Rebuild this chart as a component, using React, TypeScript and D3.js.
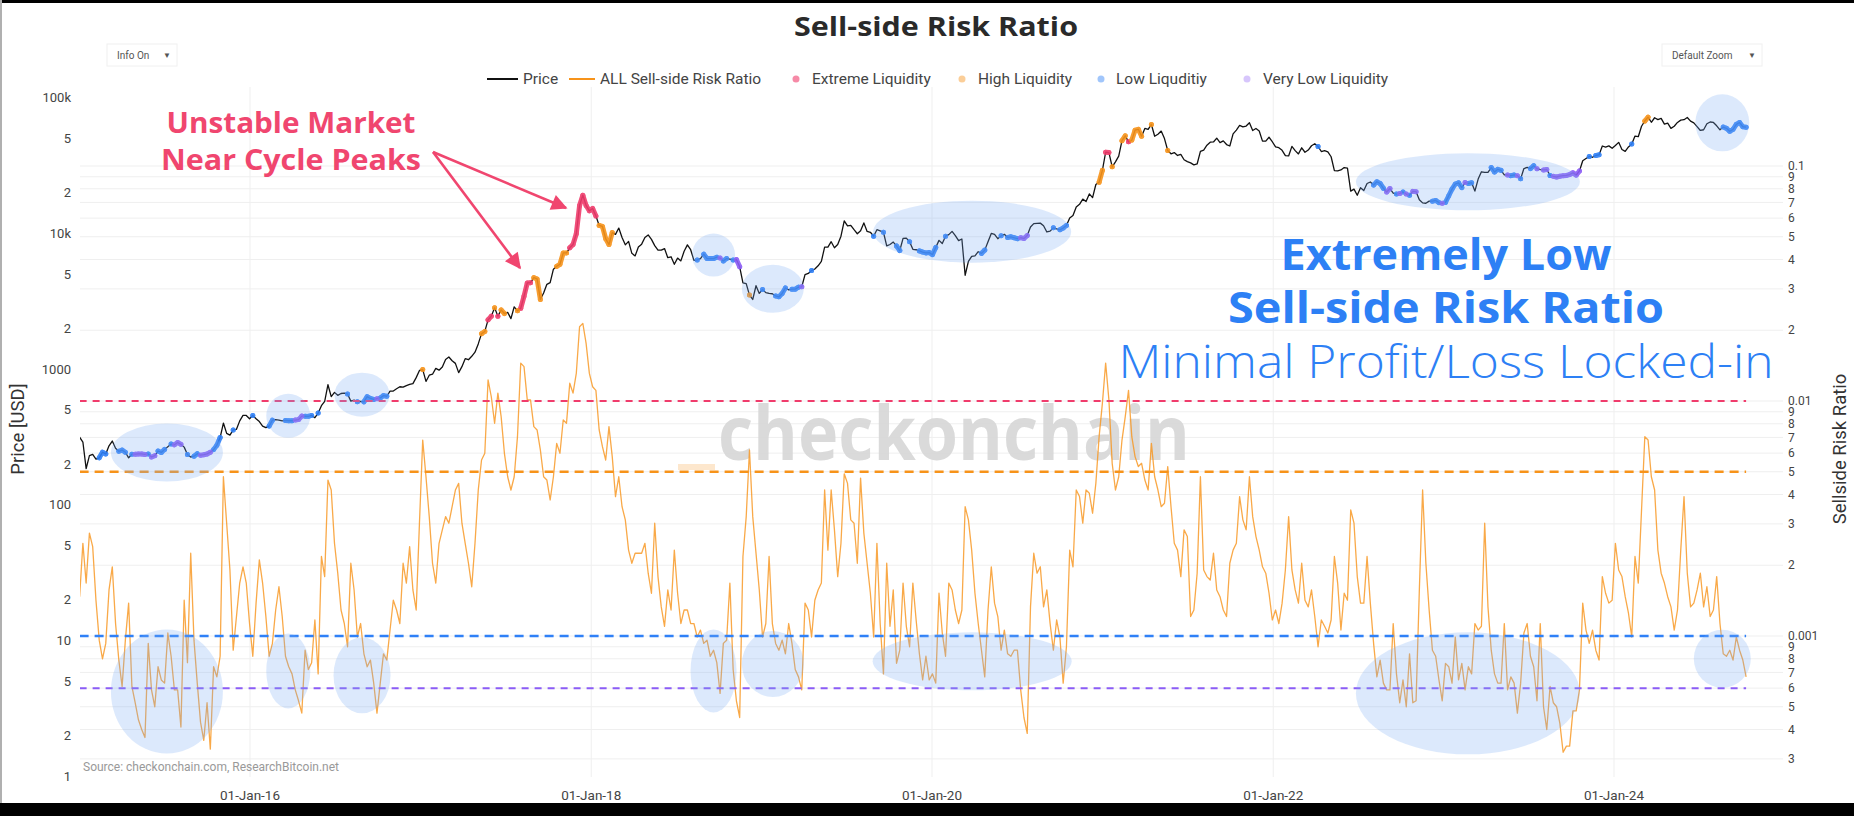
import React from "react";
import * as d3 from "d3";

const WIDTH = 1854;
const HEIGHT = 816;
const PLOT = { left: 80, right: 1783, top: 97, bottom: 777 };

// Weekly samples, first sample on 2015-01-01
const SERIES_START = "2015-01-01";
const STEP_DAYS = 7;

// BTC price, USD
const price2015 = [315, 290, 185, 230, 235, 217, 222, 244, 237, 272, 295, 261, 248, 253, 244, 222, 236, 236, 237, 237, 235, 237, 225, 230, 249, 243, 256, 268, 280, 277, 288, 279, 266, 235, 225, 228, 238, 232, 234, 237, 244, 255, 275, 313, 400, 336, 326, 356, 360, 415, 455, 455, 430];
const price2016 = [455, 430, 410, 380, 370, 380, 420, 424, 421, 415, 418, 416, 416, 421, 424, 450, 449, 448, 455, 438, 474, 537, 577, 766, 626, 673, 640, 660, 665, 655, 580, 590, 575, 577, 573, 626, 607, 597, 605, 612, 637, 630, 688, 688, 715, 740, 735, 755, 770, 780, 864, 975];
const price2017 = [990, 810, 900, 915, 1010, 980, 1035, 1175, 1225, 1150, 1100, 940, 1040, 1190, 1170, 1240, 1330, 1530, 1820, 1890, 2300, 2450, 2820, 2450, 2720, 2560, 2610, 2350, 2870, 2680, 2800, 3430, 4300, 4320, 4700, 4600, 3250, 3630, 4200, 4320, 5430, 5700, 5900, 7150, 7150, 7800, 8250, 9900, 16000, 19000, 16000, 14600];
const price2018 = [15200, 13400, 11400, 11200, 9100, 8250, 10100, 9800, 10900, 9300, 8200, 8700, 7100, 6800, 7900, 8300, 9300, 9700, 9000, 8100, 7500, 7500, 7700, 6600, 6700, 5900, 6550, 6250, 7350, 8200, 7550, 6300, 6350, 6500, 7000, 6500, 6500, 6500, 6650, 6550, 6250, 6500, 6450, 6350, 6400, 5650, 4300, 4250, 3500, 3250, 4100, 3600];
const price2019 = [3850, 3650, 3600, 3580, 3450, 3400, 3600, 3950, 3820, 3870, 3870, 4000, 4030, 4950, 5050, 5300, 5450, 5750, 6200, 7900, 7900, 8650, 7800, 8250, 9500, 12300, 11300, 11400, 10600, 9900, 10400, 11900, 10300, 10150, 9500, 10600, 10400, 10150, 8050, 8250, 8600, 8050, 7450, 9150, 9200, 8650, 7600, 7550, 7400, 7250, 7150, 7200];
const price2020 = [6950, 7850, 8850, 8400, 9500, 9750, 10300, 9600, 8800, 9050, 4900, 6200, 6750, 6800, 7300, 7100, 7500, 8650, 9950, 9800, 9100, 9550, 9800, 9300, 9400, 9250, 9100, 9250, 9150, 9600, 11100, 11750, 11800, 11850, 11350, 10200, 10350, 10950, 10750, 10600, 10900, 11400, 12950, 13500, 15600, 16300, 17800, 17100, 19450, 18250, 22800, 23700, 29000];
const price2021 = [39400, 39200, 30800, 33500, 36900, 47900, 52100, 47000, 48400, 57300, 58100, 51700, 59000, 58000, 63100, 51700, 53500, 56400, 49700, 40600, 38400, 39200, 37300, 38000, 34700, 33600, 32900, 31800, 32300, 40000, 40900, 44400, 46700, 46900, 50000, 46400, 47800, 44900, 43800, 53800, 57400, 62200, 60600, 61400, 64900, 56900, 58900, 56500, 47600, 47600, 50800, 47100];
const price2022 = [43100, 42600, 40700, 37200, 37000, 43500, 40500, 38300, 42500, 39400, 40900, 44000, 45500, 43500, 39900, 40500, 39700, 36500, 28900, 28700, 29200, 30400, 30100, 20400, 21100, 19000, 21600, 20600, 23200, 23800, 22600, 23900, 23200, 21400, 20100, 21300, 19700, 19400, 19600, 20100, 19400, 19000, 20300, 20200, 17600, 16700, 16600, 17200, 17200, 17400, 16800, 16600];
const price2023 = [16850, 18850, 21100, 23000, 23450, 21650, 23550, 23200, 23500, 20400, 25000, 28300, 28000, 28000, 30400, 28200, 29500, 29000, 26900, 26800, 26500, 26800, 26500, 25100, 29900, 30450, 29900, 31400, 29800, 29300, 29200, 29400, 26600, 26200, 25900, 26250, 26500, 26600, 27000, 27800, 26750, 28700, 34150, 35400, 36700, 36200, 37300, 37700, 43800, 43000, 43900, 42100];
const price2024 = [44200, 46600, 41300, 40000, 43100, 45300, 51800, 51300, 61200, 66900, 71400, 65500, 70700, 68500, 70000, 63500, 64500, 59100, 61200, 65300, 67900, 68400, 71000, 66800, 64800, 60900, 57000, 57700, 63900, 65800, 65300, 61700, 57600, 60400, 59100, 56200, 58100, 63200, 65200, 60700, 60300];

// Sell-side risk ratio, in units of 1e-4
const RATIO_UNIT = 1e-4;
const ssr2015 = [14.7, 24.8, 16.8, 27.4, 24, 14.2, 9.6, 8, 9.3, 15.7, 19.7, 11.3, 7.9, 6.1, 9.6, 13.8, 6.1, 5.2, 4.4, 4, 3.7, 9.3, 5.9, 5, 7.4, 6.5, 6.3, 10.3, 8.2, 5.9, 5.9, 4.1, 14.2, 7.7, 22.5, 9.6, 6.3, 4.3, 3.6, 5.2, 3.3, 7.4, 6.7, 8.2, 47.6, 30.2, 19.1, 8.7, 12.1, 16.8, 19.7, 16.8, 11.3];
const ssr2016 = [8.2, 13.8, 21.1, 16.8, 12.1, 8.2, 9.3, 12.9, 16.2, 12.1, 8.2, 7.4, 6.9, 5.9, 5.3, 4.7, 8.7, 7.2, 7.7, 11.7, 6.9, 21.8, 17.9, 46.1, 41.8, 24.8, 18.5, 12.9, 11.3, 9, 20.4, 15.7, 9.9, 11.3, 8.4, 7.4, 7.9, 6.3, 4.7, 6.3, 8.4, 7.9, 10.6, 14.2, 12.9, 11.3, 20.4, 16.8, 24, 15.7, 12.9, 30.2];
const ssr2017 = [68.2, 47.6, 32.2, 20.4, 16.8, 24.8, 28.3, 32.2, 30.2, 35.5, 41.8, 44.6, 30.2, 24.8, 20.4, 16.2, 24.8, 41.8, 56.1, 59.9, 123, 104, 80.4, 108, 85.8, 59.9, 47.6, 41.8, 47.6, 70.5, 145, 140, 101, 101, 77.8, 75.3, 61.9, 47.6, 46.1, 37.9, 47.6, 66, 59.9, 83, 80.4, 119, 108, 131, 207, 214, 176, 131];
const ssr2018 = [115, 111, 75.3, 63.9, 56.1, 77.8, 58, 39.2, 47.6, 35.5, 31.2, 23.2, 20.4, 22.5, 22.5, 22.5, 24.8, 18.5, 15.2, 30.2, 17.9, 13.3, 11, 15.7, 12.9, 23.2, 15.2, 11.3, 12.9, 12.9, 11.3, 11.3, 9.9, 10.6, 9.3, 9.6, 8.2, 8.7, 7.7, 5.7, 9.3, 9.6, 16.8, 7.2, 5.3, 4.5, 21.8, 32.2, 61.9, 32.2, 22.5, 15.7];
const ssr2019 = [9.9, 11.3, 21.8, 11.3, 9.3, 8.7, 9.6, 8.4, 11.3, 9.3, 7.2, 6.7, 5.9, 13.8, 12.9, 9.9, 14.2, 15.7, 16.8, 41.8, 23.2, 41.8, 28.3, 17.9, 24.8, 49, 44.6, 31.2, 30.2, 20.4, 47, 27.4, 20.4, 15.2, 9.9, 24.8, 11.3, 6.9, 20.4, 11, 15.7, 7.65, 8.7, 16.8, 11, 9, 16.8, 11.7, 8.4, 6.5, 8.2, 6.5];
const ssr2020 = [6.9, 6.3, 15.2, 10.3, 8.2, 16.8, 15.7, 12.9, 11.3, 12.9, 35.5, 31.2, 23.2, 15.2, 11.3, 8.7, 6.7, 12.9, 19.7, 13.8, 12.1, 8.7, 10.6, 8.4, 8.2, 8.7, 8.7, 5.9, 4.5, 3.85, 13.3, 22.5, 18.5, 19.7, 13.3, 15.7, 11.3, 8.7, 11.7, 9.9, 6.3, 9, 23.2, 19.7, 41.8, 39.2, 30.2, 41.8, 40.5, 33.3, 44.6, 70.5, 97.7];
const ssr2021 = [145, 101, 54.3, 41.8, 47.6, 68.2, 85.8, 111, 70.5, 58, 52.6, 54.3, 46.1, 41.8, 66, 47.6, 41.8, 35.5, 36.7, 52.6, 35.5, 24.8, 23.2, 17.9, 28.3, 26.5, 12.1, 12.9, 18.5, 47.6, 19.1, 17.9, 17.3, 22.5, 15.7, 14.7, 12.9, 12.1, 20.4, 23.2, 24.8, 39.2, 31.2, 28.3, 47.6, 32.2, 26.5, 23.2, 19.7, 18.5, 15.2, 11.7];
const ssr2022 = [12.9, 11.3, 13.8, 19.1, 32.2, 19.1, 15.7, 13.8, 20.4, 14.2, 13.3, 15.7, 12.1, 9, 11.7, 11, 10.3, 11.7, 21.8, 16.8, 10.6, 15.2, 14.2, 34.4, 30.2, 17.9, 13.8, 13.8, 21.8, 13.8, 9.3, 6.7, 7.9, 6.3, 5.9, 5.9, 11.3, 6.9, 5.2, 6.5, 5, 8.4, 5.2, 5.3, 15.7, 41.8, 20.4, 12.9, 8.7, 8.2, 6.5, 5.3];
const ssr2023 = [7.65, 7.4, 6.3, 9.9, 6.5, 7.65, 5.9, 7.4, 6.9, 11.3, 10.6, 11, 30.2, 13.3, 8.7, 6.9, 6.3, 6.3, 11.3, 5.9, 6.7, 6.3, 4.7, 6.3, 10.3, 11.3, 8.2, 7.4, 5.3, 11.3, 5, 4, 6.1, 5.2, 5, 4.25, 3.2, 3.4, 3.4, 4.8, 4.8, 5.9, 13.8, 10.6, 9.3, 10.6, 8.7, 7.9, 17.9, 15.2, 13.8, 14.2];
const ssr2024 = [24.8, 19.1, 17.9, 14.7, 12.5, 9.9, 21.8, 16.8, 34.4, 70.5, 68.2, 47.6, 41.8, 23.2, 18.5, 16.8, 14.7, 13.3, 10.6, 12.9, 23.2, 39.2, 18.5, 13.3, 13.8, 15.7, 18.5, 13.3, 16.2, 12.1, 12.9, 17.9, 11.3, 8.4, 8.2, 8.7, 7.9, 9.9, 8.7, 7.9, 6.7];

// Liquidity regime thresholds on the ratio
const THRESHOLDS = { extreme: 0.01, high: 0.005, low: 0.001, veryLow: 0.0006 };

const xTickDates = ["2016-01-01", "2018-01-01", "2020-01-01", "2022-01-01", "2024-01-01"];
const priceTicks = [1, 2, 5, 10, 20, 50, 100, 200, 500, 1000, 2000, 5000, 10000, 20000, 50000, 100000];
const ratioDecades = [-4, -3, -2, -1];
const ratioMantissas = [1, 2, 3, 4, 5, 6, 7, 8, 9];

// Highlighted low-liquidity windows: [date, level, rx, ry]
const priceHighlights: [string, number, number, number][] = [
  ["2015-07-07", 243, 56, 29],
  ["2016-03-23", 452, 22, 22],
  ["2016-08-28", 647, 27.5, 22],
  ["2018-09-20", 6900, 21.5, 21.5],
  ["2019-01-25", 3890, 31, 24],
  ["2020-03-27", 10250, 99, 31],
  ["2023-02-22", 23900, 112, 28.5],
  ["2024-08-20", 64900, 27, 28.5],
];
const ratioHighlights: [string, number, number, number][] = [
  ["2015-07-07", 0.00058, 56, 62],
  ["2016-03-23", 0.00071, 22, 37.5],
  ["2016-08-28", 0.00068, 28.5, 38],
  ["2018-09-20", 0.00071, 23, 41.5],
  ["2019-01-25", 0.00076, 31, 33],
  ["2020-03-27", 0.00078, 99.5, 29],
  ["2023-02-22", 0.00057, 112, 61],
  ["2024-08-20", 0.0008, 28.5, 29],
];

const COLORS = {
  price: "#111111",
  ratio: "#f7931a",
  extreme: "#f03c6c",
  high: "#f7931a",
  low: "#2f80f7",
  veryLow: "#8b5cf6",
  note: "#f0466f",
  blueNote: "#2d80f5",
  tick: "#444444",
  grid: "#efefef",
};

type Regime = "extreme" | "high" | "low" | "veryLow" | null;

const FONT = "Roboto, 'Open Sans', sans-serif";
const NOTE_FONT = "'Open Sans', Lato, sans-serif";

export default function App() {
  const price = [
    ...price2015, ...price2016, ...price2017, ...price2018, ...price2019,
    ...price2020, ...price2021, ...price2022, ...price2023, ...price2024,
  ];
  const ratio = [
    ...ssr2015, ...ssr2016, ...ssr2017, ...ssr2018, ...ssr2019,
    ...ssr2020, ...ssr2021, ...ssr2022, ...ssr2023, ...ssr2024,
  ].map((v) => v * RATIO_UNIT);
  const start = new Date(SERIES_START);
  const n = Math.min(price.length, ratio.length);
  const idx = d3.range(n);
  const dates = idx.map((i) => d3.utcDay.offset(start, i * STEP_DAYS));

  const x = d3
    .scaleUtc()
    .domain([new Date("2016-01-01"), new Date("2024-01-01")])
    .range([250, 1614]);
  const yPrice = d3.scaleLog().domain([10, 1000]).range([640.7, 369]);
  const yRatio = d3.scaleLog().domain([0.001, 0.01]).range([636, 401]);

  const regime = (r: number): Regime =>
    r > THRESHOLDS.extreme
      ? "extreme"
      : r > THRESHOLDS.high
      ? "high"
      : r < THRESHOLDS.veryLow
      ? "veryLow"
      : r < THRESHOLDS.low
      ? "low"
      : null;
  const regimes = idx.map((i) => regime(ratio[i]));

  const priceLine = d3
    .line<number>()
    .x((i) => x(dates[i]))
    .y((i) => yPrice(price[i]))(idx) as string;
  const ratioLine = d3
    .line<number>()
    .x((i) => x(dates[i]))
    .y((i) => yRatio(ratio[i]))(idx) as string;
  const regimePath = (cat: Regime) =>
    d3
      .line<number>()
      .defined((i) => regimes[i] === cat)
      .x((i) => x(dates[i]))
      .y((i) => yPrice(price[i]))(idx) as string;

  const firstX = x(dates[0]);
  const lastX = x(dates[n - 1]);

  const ratioTicks = ratioDecades
    .flatMap((e) => ratioMantissas.map((m) => m * Math.pow(10, e)))
    .filter((v) => yRatio(v) >= PLOT.top && yRatio(v) <= PLOT.bottom);
  const ratioLabel = (v: number) => {
    const e = Math.floor(Math.log10(v) + 1e-9);
    const m = Math.round(v / Math.pow(10, e));
    return m === 1 ? String(+v.toPrecision(1)) : String(m);
  };
  const priceLabel = (v: number) => {
    if (v === 100000) return "100k";
    if (v === 10000) return "10k";
    const e = Math.floor(Math.log10(v) + 1e-9);
    const m = Math.round(v / Math.pow(10, e));
    return m === 1 ? String(v) : String(m);
  };
  const fmtDate = d3.utcFormat("%d-%b-%y");

  const thresholdLines: { v: number; color: string; width: number; dash: string }[] = [
    { v: THRESHOLDS.extreme, color: COLORS.extreme, width: 2, dash: "7,6" },
    { v: THRESHOLDS.high, color: COLORS.high, width: 2.6, dash: "9,6" },
    { v: THRESHOLDS.low, color: COLORS.low, width: 2.6, dash: "9,6" },
    { v: THRESHOLDS.veryLow, color: COLORS.veryLow, width: 2, dash: "7,6" },
  ];

  const regimeList: { key: Regime; color: string }[] = [
    { key: "extreme", color: COLORS.extreme },
    { key: "high", color: COLORS.high },
    { key: "low", color: COLORS.low },
    { key: "veryLow", color: COLORS.veryLow },
  ];

  const legendY = 79;

  return (
    <svg
      width={WIDTH}
      height={HEIGHT}
      viewBox={`0 0 ${WIDTH} ${HEIGHT}`}
      style={{ position: "absolute", left: 0, top: 0, background: "#fff" }}
    >
      <defs>
        <marker
          id="arrowHead"
          viewBox="0 0 10 10"
          refX="9"
          refY="5"
          markerWidth="20"
          markerHeight="16"
          markerUnits="userSpaceOnUse"
          orient="auto"
        >
          <path d="M0,0 L10,5 L0,10 z" fill={COLORS.note} />
        </marker>
        <clipPath id="plotClip">
          <rect x={PLOT.left} y={PLOT.top - 5} width={PLOT.right - PLOT.left} height={PLOT.bottom - PLOT.top + 10} />
        </clipPath>
      </defs>
      <rect x={0} y={0} width={WIDTH} height={HEIGHT} fill="#fff" />

      {/* grid */}
      <g>
        {ratioTicks.map((v) => (
          <line key={"gr" + v} x1={PLOT.left} x2={PLOT.right} y1={yRatio(v)} y2={yRatio(v)} stroke={COLORS.grid} strokeWidth={1} />
        ))}
        {xTickDates.map((d) => (
          <line key={"gx" + d} x1={x(new Date(d))} x2={x(new Date(d))} y1={PLOT.top - 10} y2={PLOT.bottom} stroke={COLORS.grid} strokeWidth={1} />
        ))}
      </g>

      {/* watermark */}
      <g>
        <rect x={678} y={464} width={37} height={6} fill={COLORS.ratio} opacity={0.22} />
        <text x={718} y={460} fontFamily={NOTE_FONT} fontWeight={700} fontSize={76} fill="#d7d7d7" opacity={0.9} textLength={472} lengthAdjust="spacingAndGlyphs">
          checkonchain
        </text>
      </g>

      <g clipPath="url(#plotClip)">
        {/* ratio series */}
        <path d={ratioLine} fill="none" stroke={COLORS.ratio} strokeWidth={1.3} strokeOpacity={0.8} strokeLinejoin="round" />
        {/* price series */}
        <path d={priceLine} fill="none" stroke={COLORS.price} strokeWidth={1.3} strokeLinejoin="round" />
        {regimeList.map((r) => (
          <g key={String(r.key)} opacity={0.9}>
            <path d={regimePath(r.key)} fill="none" stroke={r.color} strokeWidth={5} strokeLinecap="round" strokeLinejoin="round" />
            {idx
              .filter((i) => regimes[i] === r.key)
              .map((i) => (
                <circle key={i} cx={x(dates[i])} cy={yPrice(price[i])} r={2.5} fill={r.color} />
              ))}
          </g>
        ))}
        {/* thresholds */}
        {thresholdLines.map((t) => (
          <line key={"t" + t.v} x1={firstX} x2={lastX} y1={yRatio(t.v)} y2={yRatio(t.v)} stroke={t.color} strokeWidth={t.width} strokeDasharray={t.dash} />
        ))}
      </g>

      {/* highlighted windows */}
      <g fill="rgb(120,170,245)" fillOpacity={0.26}>
        {priceHighlights.map(([d, v, rx, ry]) => (
          <ellipse key={"hp" + d} cx={x(new Date(d))} cy={yPrice(v)} rx={rx} ry={ry} />
        ))}
        {ratioHighlights.map(([d, v, rx, ry]) => (
          <ellipse key={"hr" + d} cx={x(new Date(d))} cy={yRatio(v)} rx={rx} ry={ry} />
        ))}
      </g>

      {/* left axis */}
      <g fontFamily={FONT} fontSize={13} fill={COLORS.tick} textAnchor="end">
        {priceTicks.map((v) => (
          <text key={"pl" + v} x={71} y={yPrice(v)} dy="0.35em">
            {priceLabel(v)}
          </text>
        ))}
      </g>
      <text transform="translate(24,429) rotate(-90)" textAnchor="middle" fontFamily={FONT} fontSize={18.5} fill="#333">
        Price [USD]
      </text>

      {/* right axis */}
      <g fontFamily={FONT} fontSize={12} fill={COLORS.tick}>
        {ratioTicks.map((v) => (
          <text key={"rl" + v} x={1788} y={yRatio(v)} dy="0.35em">
            {ratioLabel(v)}
          </text>
        ))}
      </g>
      <text transform="translate(1846,449) rotate(-90)" textAnchor="middle" fontFamily={FONT} fontSize={18.5} fill="#333">
        Sellside Risk Ratio
      </text>

      {/* bottom axis */}
      <g fontFamily={FONT} fontSize={13.5} fill={COLORS.tick} textAnchor="middle">
        {xTickDates.map((d) => (
          <text key={"xl" + d} x={x(new Date(d))} y={800}>
            {fmtDate(new Date(d))}
          </text>
        ))}
      </g>

      <text x={83} y={771} fontFamily={FONT} fontSize={12} fill="#999">
        Source: checkonchain.com, ResearchBitcoin.net
      </text>

      {/* notes */}
      <g fontFamily={NOTE_FONT} fontWeight={700} fontSize={28} fill={COLORS.note} textAnchor="middle">
        <text x={291} y={133} textLength={249} lengthAdjust="spacingAndGlyphs">Unstable Market</text>
        <text x={291} y={170} textLength={260} lengthAdjust="spacingAndGlyphs">Near Cycle Peaks</text>
      </g>
      <g stroke={COLORS.note} strokeWidth={2.6} fill="none">
        <line x1={433} y1={152} x2={566} y2={208} markerEnd="url(#arrowHead)" />
        <line x1={433} y1={152} x2={520} y2={268} markerEnd="url(#arrowHead)" />
      </g>
      <g fontFamily={NOTE_FONT} fill={COLORS.blueNote} textAnchor="middle">
        <text x={1446} y={270} fontWeight={700} fontSize={43} textLength={331} lengthAdjust="spacingAndGlyphs">Extremely Low</text>
        <text x={1446} y={323} fontWeight={700} fontSize={43} textLength={436} lengthAdjust="spacingAndGlyphs">Sell-side Risk Ratio</text>
        <text x={1446} y={378} fontWeight={300} fontSize={46} textLength={655} lengthAdjust="spacingAndGlyphs">Minimal Profit/Loss Locked-in</text>
      </g>

      {/* title */}
      <text x={936} y={36} textAnchor="middle" fontFamily={NOTE_FONT} fontWeight={700} fontSize={27} fill="#2a2a2a" textLength={284} lengthAdjust="spacingAndGlyphs">
        Sell-side Risk Ratio
      </text>

      {/* controls */}
      <g fontFamily={FONT} fontSize={10} fill="#555">
        <rect x={107} y={44} width={70} height={22} fill="#fff" stroke="#f0f0f0" />
        <text x={117} y={59}>Info On</text>
        <text x={163} y={58} fontSize={8}>▼</text>
        <rect x={1662} y={44} width={100} height={22} fill="#fff" stroke="#f0f0f0" />
        <text x={1672} y={59}>Default Zoom</text>
        <text x={1748} y={58} fontSize={8}>▼</text>
      </g>

      {/* legend */}
      <g fontFamily={FONT} fontSize={15.5} fill="#444">
        <line x1={487} x2={518} y1={legendY} y2={legendY} stroke={COLORS.price} strokeWidth={2} />
        <text x={523} y={legendY} dy="0.35em">Price</text>
        <line x1={569} x2={595} y1={legendY} y2={legendY} stroke={COLORS.ratio} strokeWidth={2} />
        <text x={600} y={legendY} dy="0.35em">ALL Sell-side Risk Ratio</text>
        <circle cx={796} cy={legendY} r={3.5} fill={COLORS.extreme} opacity={0.6} />
        <text x={812} y={legendY} dy="0.35em">Extreme Liquidity</text>
        <circle cx={962} cy={legendY} r={3.5} fill={COLORS.high} opacity={0.45} />
        <text x={978} y={legendY} dy="0.35em">High Liquidity</text>
        <circle cx={1101} cy={legendY} r={3.5} fill={COLORS.low} opacity={0.45} />
        <text x={1116} y={legendY} dy="0.35em">Low Liquditiy</text>
        <circle cx={1247} cy={legendY} r={3.5} fill={COLORS.veryLow} opacity={0.35} />
        <text x={1263} y={legendY} dy="0.35em">Very Low Liquidity</text>
      </g>

      {/* frame */}
      <rect x={0} y={0} width={WIDTH} height={3} fill="#000" />
      <rect x={0} y={0} width={2} height={HEIGHT} fill="#b0b0b0" />
      <rect x={0} y={803} width={WIDTH} height={13} fill="#000" />
    </svg>
  );
}
